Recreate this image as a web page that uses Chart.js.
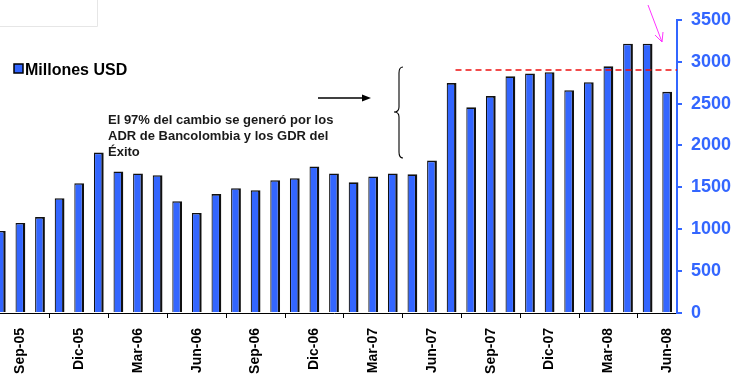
<!DOCTYPE html>
<html>
<head>
<meta charset="utf-8">
<script src="https://cdn.jsdelivr.net/npm/chart.js@4/dist/chart.umd.min.js"></script>
<style>
  html, body { margin: 0; padding: 0; background: #ffffff; }
  #wrap { position: relative; width: 734px; height: 375px; overflow: hidden; }
  #wrap canvas { position: absolute; left: -10px; top: 0; }
</style>
</head>
<body>
<div id="wrap"><canvas id="c" width="744" height="375"></canvas></div>
<script>
// Monthly values, Ago-05 .. Jun-08
const months = [
  'Ago-05','Sep-05','Oct-05','Nov-05','Dic-05',
  'Ene-06','Feb-06','Mar-06','Abr-06','May-06','Jun-06','Jul-06','Ago-06','Sep-06','Oct-06','Nov-06','Dic-06',
  'Ene-07','Feb-07','Mar-07','Abr-07','May-07','Jun-07','Jul-07','Ago-07','Sep-07','Oct-07','Nov-07','Dic-07',
  'Ene-08','Feb-08','Mar-08','Abr-08','May-08','Jun-08'
];
const millonesUSD = [
  980, 1075, 1145, 1370, 1550,
  1915, 1690, 1665, 1645, 1335, 1195, 1420, 1490, 1465, 1585, 1610, 1750,
  1665, 1560, 1630, 1665, 1655, 1820, 2745, 2455, 2590, 2825, 2860, 2875,
  2660, 2755, 2945, 3215, 3215, 2640
];
const seriesName = 'Millones USD';
const yTicks = [0, 500, 1000, 1500, 2000, 2500, 3000, 3500];
const referenceLevel = 2900;      // dashed red level
const referenceFrom = 'Jul-07';   // dashed level starts after this month
const noteLines = [
  'El 97% del cambio se generó por los',
  'ADR de Bancolombia y los GDR del',
  'Éxito'
];

const FONT = '"Liberation Sans", Arial, Helvetica, sans-serif';
const BLUE = '#3366ff';
const SHIFT = 10; // canvas is shifted left by this much inside the frame

const overlay = {
  id: 'overlay',
  afterDatasetsDraw(chart) {
    const ctx = chart.ctx;
    const y = chart.scales.y;
    const area = chart.chartArea;
    ctx.save();

    // dashed reference level
    const i0 = months.indexOf(referenceFrom);
    const bar = chart.getDatasetMeta(0).data[i0];
    const xs = bar.x + bar.width / 2 - 1;
    const yl = y.getPixelForValue(referenceLevel);
    ctx.strokeStyle = '#ee1111';
    ctx.lineWidth = 1.6;
    ctx.setLineDash([6, 4]);
    ctx.beginPath();
    ctx.moveTo(xs, yl);
    ctx.lineTo(area.right, yl);
    ctx.stroke();
    ctx.setLineDash([]);

    // faint frame in the top-left corner
    ctx.strokeStyle = '#e6e6e6';
    ctx.lineWidth = 1;
    ctx.beginPath();
    ctx.moveTo(SHIFT + 0, 26.5);
    ctx.lineTo(SHIFT + 97.5, 26.5);
    ctx.lineTo(SHIFT + 97.5, 0);
    ctx.stroke();

    // legend
    ctx.fillStyle = BLUE;
    ctx.fillRect(SHIFT + 14, 64, 9, 9);
    ctx.strokeStyle = '#000';
    ctx.lineWidth = 1.5;
    ctx.strokeRect(SHIFT + 14, 64, 9, 9);
    ctx.fillStyle = '#000';
    ctx.font = 'bold 16px ' + FONT;
    ctx.textBaseline = 'alphabetic';
    ctx.textAlign = 'left';
    ctx.fillText(seriesName, SHIFT + 25, 75);

    // note text
    ctx.fillStyle = '#1a1a1a';
    ctx.font = 'bold 13px ' + FONT;
    noteLines.forEach((t, k) => ctx.fillText(t, SHIFT + 108, 124 + k * 16));

    // arrow
    ctx.strokeStyle = '#000';
    ctx.lineWidth = 1.3;
    ctx.beginPath();
    ctx.moveTo(SHIFT + 318, 98);
    ctx.lineTo(SHIFT + 364, 98);
    ctx.stroke();
    ctx.fillStyle = '#000';
    ctx.beginPath();
    ctx.moveTo(SHIFT + 371, 98);
    ctx.lineTo(SHIFT + 362, 94.5);
    ctx.lineTo(SHIFT + 362, 101.5);
    ctx.closePath();
    ctx.fill();

    // curly brace
    ctx.lineWidth = 1.1;
    ctx.beginPath();
    const bx = SHIFT + 399, top = 67, mid = 112, bot = 158;
    ctx.moveTo(bx + 4, top);
    ctx.quadraticCurveTo(bx, top, bx, top + 6);
    ctx.lineTo(bx, mid - 5);
    ctx.quadraticCurveTo(bx, mid, bx - 5, mid);
    ctx.quadraticCurveTo(bx, mid, bx, mid + 5);
    ctx.lineTo(bx, bot - 6);
    ctx.quadraticCurveTo(bx, bot, bx + 4, bot);
    ctx.stroke();

    // magenta pointer
    ctx.strokeStyle = '#ff33ff';
    ctx.lineWidth = 1;
    ctx.beginPath();
    ctx.moveTo(SHIFT + 648, 5);
    ctx.lineTo(SHIFT + 662, 42);
    ctx.moveTo(SHIFT + 662, 42);
    ctx.lineTo(SHIFT + 655, 35);
    ctx.moveTo(SHIFT + 662, 42);
    ctx.lineTo(SHIFT + 663, 32);
    ctx.stroke();

    ctx.restore();
  }
};

new Chart(document.getElementById('c'), {
  type: 'bar',
  data: {
    labels: months,
    datasets: [{
      label: seriesName,
      data: millonesUSD,
      backgroundColor: BLUE,
      borderColor: '#111111',
      borderWidth: { left: 1.2, right: 2.4, top: 1.6, bottom: 0 },
      borderSkipped: 'bottom',
      barPercentage: 0.5,
      categoryPercentage: 1.0
    }]
  },
  options: {
    responsive: false,
    animation: false,
    devicePixelRatio: 1,
    layout: { padding: { left: 1, top: 16, right: 0, bottom: 0 } },
    plugins: { legend: { display: false }, tooltip: { enabled: false } },
    scales: {
      x: {
        offset: true,
        grid: { display: true, offset: true, drawOnChartArea: false, drawTicks: true, tickLength: 5, color: '#000', lineWidth: 1 },
        border: { display: true, color: '#000', width: 1 },
        ticks: {
          autoSkip: false,
          maxRotation: 90,
          minRotation: 90,
          padding: 10,
          color: '#000',
          font: { family: FONT, size: 14, weight: 'bold' },
          callback: (v, i) => (i % 3 === 1 ? months[i] : null)
        },
        afterFit: s => { s.height = 62; }
      },
      y: {
        position: 'right',
        min: 0,
        max: 3500,
        afterBuildTicks: s => { s.ticks = yTicks.map(v => ({ value: v })); },
        grid: { display: true, drawOnChartArea: false, drawTicks: true, tickLength: 5, color: BLUE, lineWidth: 2 },
        border: { display: true, color: BLUE, width: 2 },
        ticks: {
          padding: 9,
          color: BLUE,
          font: { family: FONT, size: 18, weight: 'bold' },
          callback: v => String(v)
        },
        afterFit: s => { s.width = 57; }
      }
    }
  },
  plugins: [overlay]
});
</script>
</body>
</html>
